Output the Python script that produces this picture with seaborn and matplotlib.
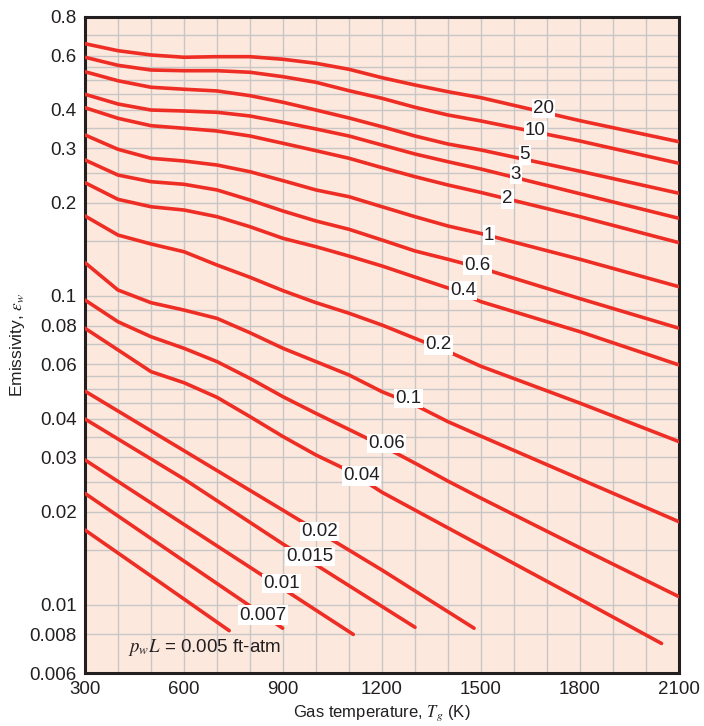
import pandas as pd
import seaborn as sns
import matplotlib.pyplot as plt

# water vapour emissivity chart, one curve per p_w*L (ft-atm)
t_main = [300, 400, 500, 600, 700, 800, 900, 1000, 1100, 1200, 1300, 1400, 1500, 1800, 2100]

e_20 = [0.6555, 0.6221, 0.6026, 0.5924, 0.5950, 0.5950, 0.5836, 0.5664, 0.5416, 0.5087, 0.4817, 0.4582, 0.4382, 0.3692, 0.3155]
e_10 = [0.5924, 0.5579, 0.5387, 0.5359, 0.5359, 0.5297, 0.5125, 0.4915, 0.4617, 0.4362, 0.4079, 0.3851, 0.3684, 0.3172, 0.2686]
e_5 = [0.5319, 0.4972, 0.4737, 0.4667, 0.4608, 0.4449, 0.4235, 0.3997, 0.3767, 0.3529, 0.3293, 0.3102, 0.2967, 0.2532, 0.2148]
e_3 = [0.4495, 0.4181, 0.3997, 0.3968, 0.3930, 0.3823, 0.3648, 0.3470, 0.3293, 0.3079, 0.2879, 0.2718, 0.2574, 0.2141, 0.1782]
e_2 = [0.4067, 0.3758, 0.3556, 0.3488, 0.3418, 0.3293, 0.3119, 0.2951, 0.2789, 0.2601, 0.2431, 0.2285, 0.2161, 0.1804, 0.1486]
e_1 = [0.3318, 0.2982, 0.2789, 0.2733, 0.2652, 0.2523, 0.2360, 0.2202, 0.2094, 0.1943, 0.1804, 0.1683, 0.1591, 0.1313, 0.1070]
e_06 = [0.2754, 0.2461, 0.2342, 0.2297, 0.2202, 0.2043, 0.1882, 0.1747, 0.1642, 0.1516, 0.1397, 0.1313, 0.1230, 0.0979, 0.0785]
e_04 = [0.2325, 0.2053, 0.1943, 0.1896, 0.1804, 0.1674, 0.1535, 0.1442, 0.1345, 0.1249, 0.1150, 0.1060, 0.0957, 0.0765, 0.0597]
e_02 = [0.1814, 0.1573, 0.1472, 0.1389, 0.1258, 0.1148, 0.1039, 0.0950, 0.0878, 0.0804, 0.0728, 0.0660, 0.0591, 0.0449, 0.0337]
e_01 = [0.1280, 0.1044, 0.0950, 0.0899, 0.0845, 0.0759, 0.0676, 0.0612, 0.0554, 0.0489, 0.0443, 0.0391, 0.0351, 0.0255, 0.01854]
e_006 = [0.0969, 0.0824, 0.0737, 0.0676, 0.0612, 0.0540, 0.0471, 0.0416, 0.0369, 0.0327, 0.0287, 0.0251, 0.0221, 0.01526, 0.0106]

t_004 = [300, 400, 500, 600, 700, 800, 900, 1000, 1100, 1200, 1500, 1800, 2047]
e_004 = [0.0785, 0.0668, 0.0568, 0.0523, 0.0469, 0.0406, 0.0350, 0.0305, 0.0271, 0.0231, 0.0155, 0.01041, 0.00748]
t_002 = [300, 600, 900, 1200, 1479]
e_002 = [0.0491, 0.0315, 0.0202, 0.01293, 0.00838]
t_0015 = [300, 600, 900, 1300]
e_0015 = [0.0399, 0.0255, 0.0157, 0.00844]
t_001 = [300, 600, 900, 1113]
e_001 = [0.0294, 0.01817, 0.01125, 0.0080]
t_0007 = [300, 600, 899]
e_0007 = [0.0229, 0.01383, 0.00838]
t_0005 = [300, 500, 737]
e_0005 = [0.01743, 0.01237, 0.00823]

curve_names = ['20', '10', '5', '3', '2', '1', '0.6', '0.4', '0.2', '0.1', '0.06',
               '0.04', '0.02', '0.015', '0.01', '0.007', '0.005']
curve_t = [t_main] * 11 + [t_004, t_002, t_0015, t_001, t_0007, t_0005]
curve_e = [e_20, e_10, e_5, e_3, e_2, e_1, e_06, e_04, e_02, e_01, e_006,
           e_004, e_002, e_0015, e_001, e_0007, e_0005]

# in-line labels (text, T, emissivity)
label_text = ['20', '10', '5', '3', '2', '1', '0.6', '0.4', '0.2', '0.1', '0.06',
              '0.04', '0.02', '0.015', '0.01', '0.007']
label_t = [1689, 1664, 1633, 1606, 1580, 1524, 1490, 1446, 1371, 1280, 1214,
           1138, 1012, 982, 896, 840]
label_e = [0.405, 0.3425, 0.2858, 0.248, 0.2059, 0.1573, 0.1258, 0.1039, 0.0693, 0.0466, 0.0333,
           0.0261, 0.0172, 0.01428, 0.0117, 0.00924]

y_major = [0.006, 0.008, 0.01, 0.02, 0.03, 0.04, 0.06, 0.08, 0.1, 0.2, 0.3, 0.4, 0.6, 0.8]
y_major_lbl = ['0.006', '0.008', '0.01', '0.02', '0.03', '0.04', '0.06', '0.08', '0.1',
               '0.2', '0.3', '0.4', '0.6', '0.8']
y_minor = [0.015, 0.025, 0.035, 0.045, 0.05, 0.055, 0.07, 0.09, 0.15, 0.25, 0.35, 0.45, 0.5, 0.55, 0.7]
x_major = [300, 600, 900, 1200, 1500, 1800, 2100]

rows = []
for name, ts, es in zip(curve_names, curve_t, curve_e):
    for t, e in zip(ts, es):
        rows.append({'pwL': name, 'T': t, 'eps': e})
df = pd.DataFrame(rows)

sns.set_theme(style='white')
plt.rcParams['font.family'] = ['Liberation Sans', 'DejaVu Sans']
plt.rcParams['mathtext.fontset'] = 'stix'

red = '#ee2d24'
ink = '#231f20'
fs = 13.5

fig = plt.figure(figsize=(7.04, 7.26), dpi=100)
ax = fig.add_axes([0.1207, 0.0730, 0.8438, 0.9036])
ax.set_facecolor('#fde8de')

sns.lineplot(data=df, x='T', y='eps', hue='pwL', palette=[red] * len(curve_names),
             estimator=None, sort=False, legend=False, linewidth=2.6, ax=ax, zorder=3)

ax.set_yscale('log')
ax.set_xlim(300, 2100)
ax.set_ylim(0.006, 0.8)
ax.set_yticks(y_major)
ax.set_yticklabels(y_major_lbl)
ax.set_yticks(y_minor, minor=True)
ax.set_yticklabels([''] * len(y_minor), minor=True)
ax.set_xticks(x_major)
ax.set_xticks(range(400, 2100, 100), minor=True)
ax.grid(True, which='both', color='#c9c7c5', linewidth=1.0, zorder=1)
ax.set_axisbelow(True)
ax.tick_params(which='both', length=0, labelsize=fs, colors=ink, pad=6)

for s in ax.spines.values():
    s.set_color(ink)
    s.set_linewidth(2.2)

for txt, t, e in zip(label_text, label_t, label_e):
    ax.text(t, e, txt, ha='center', va='center', fontsize=fs, color=ink, zorder=5,
            bbox=dict(boxstyle='square,pad=0.06', facecolor='white', edgecolor='none'))

ax.text(430, 0.00723, r'$p_wL$ = 0.005 ft-atm', ha='left', va='center', fontsize=fs,
        color=ink, zorder=5)

ax.set_xlabel(r'Gas temperature, $T_g$ (K)', fontsize=12, color=ink, labelpad=4)
ax.set_ylabel(r'Emissivity, $\varepsilon_w$', fontsize=12.5, color=ink, labelpad=2)

fig.savefig('out.png', dpi=100)
